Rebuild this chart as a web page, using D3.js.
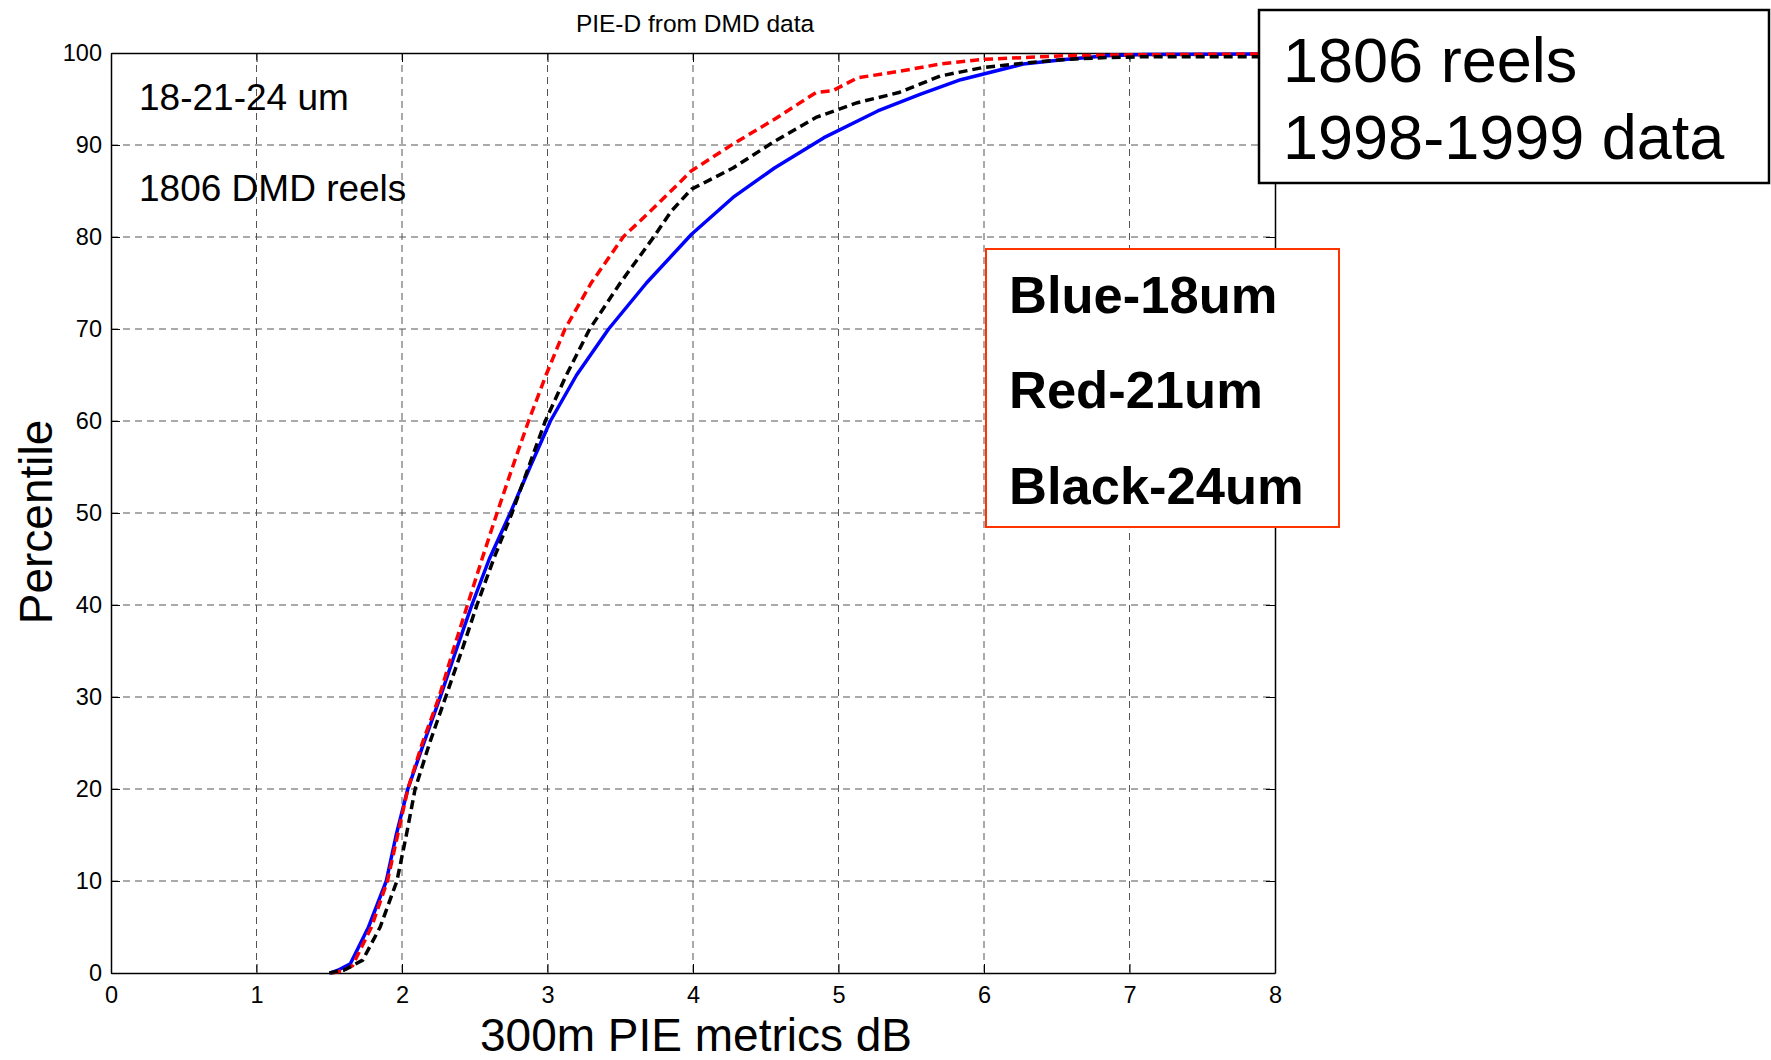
<!DOCTYPE html>
<html>
<head>
<meta charset="utf-8">
<script src="https://cdn.jsdelivr.net/npm/d3@7"></script>
<style>
  body { margin: 0; background: #fff; }
  svg text { font-family: "Liberation Sans", Arial, sans-serif; fill: #000; }
</style>
</head>
<body>
<div id="chart"></div>
<script>
// CDF curves: [PIE metric dB, percentile]
var blue18 = [[1.51,0],[1.56,0.3],[1.645,1],[1.77,5],[1.892,10],[1.96,15],[2.04,20],[2.15,25],[2.263,30],[2.37,35],[2.48,40],[2.6,45],[2.744,50],[2.88,55],[3.02,60],[3.2,65],[3.42,70],[3.68,75],[3.99,80.3],[4.275,84.3],[4.56,87.5],[4.9,90.8],[5.27,93.7],[5.56,95.5],[5.84,97.1],[6.27,98.8],[6.555,99.3],[6.84,99.7],[7.1,99.85],[8,99.9]]
var red21 = [[1.52,0],[1.6,0.3],[1.66,0.8],[1.79,5],[1.9,10],[1.97,15],[2.04,20],[2.14,25],[2.255,30],[2.35,35],[2.45,40],[2.55,45],[2.653,50],[2.76,55],[2.87,60],[2.99,65],[3.12,70],[3.3,75],[3.52,80],[3.706,82.8],[3.99,87.2],[4.275,90.1],[4.56,92.8],[4.845,95.7],[4.96,95.9],[5.13,97.3],[5.415,98.0],[5.7,98.8],[5.985,99.3],[6.555,99.7],[7.0,99.8],[8,99.9]]
var black24 = [[1.5,0],[1.6,0.3],[1.73,1.4],[1.85,5],[1.965,10],[2.03,15],[2.09,20],[2.19,25],[2.3,30],[2.41,35],[2.515,40],[2.63,45],[2.756,50],[2.87,55],[2.985,60],[3.13,65],[3.29,70],[3.5,75],[3.73,80],[3.85,82.8],[3.99,85.2],[4.275,87.5],[4.56,90.4],[4.845,93.0],[5.13,94.6],[5.415,95.7],[5.7,97.5],[5.985,98.4],[6.27,98.9],[6.555,99.3],[6.84,99.5],[7.12,99.6],[8,99.6]]

var xTicks = [0,1,2,3,4,5,6,7,8]
var yTicks = [0,10,20,30,40,50,60,70,80,90,100]

var title = 'PIE-D from DMD data'
var xLabel = '300m PIE metrics dB'
var yLabel = 'Percentile'
var notes = ['18-21-24 um', '1806 DMD reels']
var infoLines = ['1806 reels', '1998-1999 data']
var legendLines = ['Blue-18um', 'Red-21um', 'Black-24um']

var width = 1771
var height = 1060
var margin = { top: 53, bottom: 87, left: 111, right: 496 }
var plotW = width - margin.left - margin.right
var plotH = height - margin.top - margin.bottom

var svg = d3.select('#chart').append('svg')
    .attr('width', width)
    .attr('height', height)

var x = d3.scaleLinear().domain([0, 8]).range([0, plotW])
var y = d3.scaleLinear().domain([0, 100]).range([plotH, 0])

var g = svg.append('g')
    .attr('transform', 'translate(' + margin.left + ',' + margin.top + ')')

// grid
g.append('g')
    .selectAll('line')
    .data(xTicks.slice(1, -1))
    .join('line')
    .attr('x1', d => x(d)).attr('x2', d => x(d))
    .attr('y1', 0).attr('y2', plotH)
    .attr('stroke', '#555')
    .attr('stroke-width', 1)
    .attr('stroke-dasharray', '7,5')

g.append('g')
    .selectAll('line')
    .data(yTicks.slice(1, -1))
    .join('line')
    .attr('x1', 0).attr('x2', plotW)
    .attr('y1', d => y(d)).attr('y2', d => y(d))
    .attr('stroke', '#555')
    .attr('stroke-width', 1)
    .attr('stroke-dasharray', '7,5')

// axes
g.append('g')
    .attr('transform', 'translate(0,' + plotH + ')')
    .call(d3.axisBottom(x).tickValues(xTicks).tickSizeInner(-9).tickSizeOuter(0).tickPadding(13).tickFormat(d3.format('d')))
g.append('g')
    .call(d3.axisLeft(y).tickValues(yTicks).tickSizeInner(-9).tickSizeOuter(0).tickPadding(9).tickFormat(d3.format('d')))
g.append('g')
    .call(d3.axisTop(x).tickValues(xTicks).tickSizeInner(-9).tickSizeOuter(0).tickFormat(''))
g.append('g')
    .attr('transform', 'translate(' + plotW + ',0)')
    .call(d3.axisRight(y).tickValues(yTicks).tickSizeInner(-9).tickSizeOuter(0).tickFormat(''))

g.selectAll('.domain').attr('stroke', '#000').attr('stroke-width', 1.5)
g.selectAll('.tick line').attr('stroke', '#000')
g.selectAll('.tick text')
    .style('font-family', '"Liberation Sans", Arial, sans-serif')
    .style('font-size', '23.5px')

// curves
var line = d3.line()
    .x(d => x(d[0]))
    .y(d => y(d[1]))

var series = [
    { data: blue18, color: '#0000ff', dash: null },
    { data: red21, color: '#ff0000', dash: '9,5' },
    { data: black24, color: '#000000', dash: '9,5' }
]

g.append('g')
    .selectAll('path')
    .data(series)
    .join('path')
    .attr('d', d => line(d.data))
    .attr('fill', 'none')
    .attr('stroke', d => d.color)
    .attr('stroke-width', 3.5)
    .attr('stroke-dasharray', d => d.dash)
    .attr('stroke-linejoin', 'round')

// title & labels
svg.append('text')
    .attr('x', 695).attr('y', 31.5)
    .attr('text-anchor', 'middle')
    .attr('font-size', '24.5px')
    .text(title)

svg.append('text')
    .attr('x', 696).attr('y', 1051)
    .attr('text-anchor', 'middle')
    .attr('font-size', '46px')
    .text(xLabel)

svg.append('text')
    .attr('transform', 'translate(52,522) rotate(-90)')
    .attr('text-anchor', 'middle')
    .attr('font-size', '46px')
    .text(yLabel)

// notes inside the axes
svg.selectAll('.note')
    .data(notes)
    .join('text')
    .attr('class', 'note')
    .attr('x', 139)
    .attr('y', (d, i) => 110 + i * 91)
    .attr('font-size', '37px')
    .text(d => d)

// info box top right
svg.append('rect')
    .attr('x', 1259).attr('y', 10)
    .attr('width', 510).attr('height', 173)
    .attr('fill', '#fff')
    .attr('stroke', '#000')
    .attr('stroke-width', 2.5)

svg.selectAll('.info')
    .data(infoLines)
    .join('text')
    .attr('class', 'info')
    .attr('x', 1283)
    .attr('y', (d, i) => 82 + i * 76.5)
    .attr('font-size', '63px')
    .text(d => d)

// colour legend box
svg.append('rect')
    .attr('x', 986).attr('y', 249)
    .attr('width', 353).attr('height', 278)
    .attr('fill', '#fff')
    .attr('stroke', '#ff3300')
    .attr('stroke-width', 2)

svg.selectAll('.legend')
    .data(legendLines)
    .join('text')
    .attr('class', 'legend')
    .attr('x', 1009)
    .attr('y', (d, i) => 312.5 + i * 95.5)
    .attr('font-size', '52.5px')
    .attr('font-weight', 'bold')
    .text(d => d)
</script>
</body>
</html>
